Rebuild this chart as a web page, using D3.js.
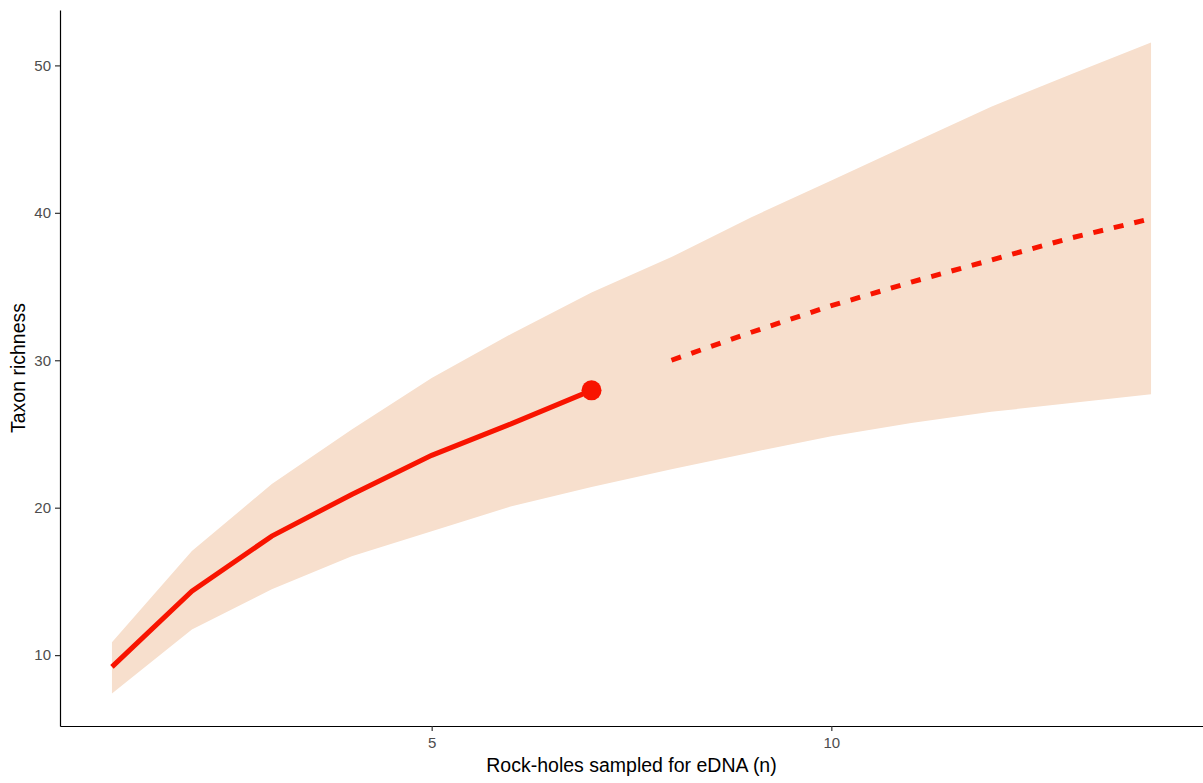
<!DOCTYPE html>
<html>
<head>
<meta charset="utf-8">
<script src="https://cdn.jsdelivr.net/npm/d3@7"></script>
<style>
  body { margin: 0; background: #fff; }
  svg text { font-family: "Liberation Sans", Arial, sans-serif; }
</style>
</head>
<body>
<svg id="chart"></svg>
<script>
// Données
const samples = [1, 2, 3, 4, 5, 6, 7, 8, 9, 10, 11, 12, 13, 14];
const richness = [9.2, 14.34, 18.07, 20.9, 23.55, 25.7, 27.96, 30.0, 31.9, 33.7, 35.3, 36.8, 38.3, 39.6];
const lowerCI = [7.4, 11.74, 14.46, 16.7, 18.4, 20.1, 21.4, 22.6, 23.75, 24.85, 25.75, 26.5, 27.1, 27.7];
const upperCI = [10.88, 17.06, 21.6, 25.3, 28.8, 31.8, 34.6, 37.0, 39.7, 42.2, 44.7, 47.2, 49.4, 51.55];
const observedN = 7;
const xTicks = [5, 10];
const yTicks = [10, 20, 30, 40, 50];

const width = 1203, height = 783;
const margin = {top: 10, right: 0, bottom: 57, left: 60};

const svg = d3.select("#chart")
    .attr("width", width)
    .attr("height", height);

const data = samples.map((n, i) => ({
    n: n, y: richness[i], lo: lowerCI[i], hi: upperCI[i]
}));

// Échelles avec l'expansion de 5% façon ggplot
const xPad = (14 - 1) * 0.05;
const xScale = d3.scaleLinear()
    .domain([1 - xPad, 14 + xPad])
    .range([margin.left, width - margin.right]);

const yMin = d3.min(lowerCI), yMax = d3.max(upperCI);
const yPad = (yMax - yMin) * 0.05;
const yScale = d3.scaleLinear()
    .domain([yMin - yPad, yMax + yPad])
    .range([height - margin.bottom, margin.top]);

// Bande de confiance
const area = d3.area()
    .x(d => xScale(d.n))
    .y0(d => yScale(d.lo))
    .y1(d => yScale(d.hi));

svg.append("path")
    .datum(data)
    .attr("d", area)
    .attr("fill", "#f7dfcd");

const line = d3.line()
    .x(d => xScale(d.n))
    .y(d => yScale(d.y));

// Interpolation (trait plein) et extrapolation (pointillés)
svg.append("path")
    .datum(data.filter(d => d.n <= observedN))
    .attr("d", line)
    .attr("fill", "none")
    .attr("stroke", "#f81400")
    .attr("stroke-width", 5);

svg.append("path")
    .datum(data.filter(d => d.n > observedN))
    .attr("d", line)
    .attr("fill", "none")
    .attr("stroke", "#f81400")
    .attr("stroke-width", 5)
    .attr("stroke-dasharray", "10,11");

const obs = data.find(d => d.n === observedN);
svg.append("circle")
    .attr("cx", xScale(obs.n))
    .attr("cy", yScale(obs.y))
    .attr("r", 10)
    .attr("fill", "#f81400");

// Axes
const xAxis = svg.append("g")
    .attr("transform", `translate(0,${height - margin.bottom})`)
    .call(d3.axisBottom(xScale).tickValues(xTicks).tickSize(5).tickSizeOuter(0).tickPadding(6));

const yAxis = svg.append("g")
    .attr("transform", `translate(${margin.left},0)`)
    .call(d3.axisLeft(yScale).tickValues(yTicks).tickSize(5).tickSizeOuter(0).tickPadding(4));

[xAxis, yAxis].forEach(g => {
    g.select(".domain").attr("stroke", "#000").attr("stroke-width", 1.2);
    g.selectAll(".tick line").attr("stroke", "#333").attr("stroke-width", 1.2);
    g.selectAll(".tick text")
        .attr("fill", "#4d4d4d")
        .style("font-size", "15px")
        .style("font-family", "'Liberation Sans', Arial, sans-serif");
});

// Titres des axes
svg.append("text")
    .attr("x", (margin.left + width - margin.right) / 2)
    .attr("y", 772)
    .attr("text-anchor", "middle")
    .style("font-size", "19.5px")
    .attr("fill", "#000")
    .text("Rock-holes sampled for eDNA (n)");

svg.append("text")
    .attr("transform", `translate(25,${(margin.top + height - margin.bottom) / 2}) rotate(-90)`)
    .attr("text-anchor", "middle")
    .style("font-size", "19.5px")
    .attr("fill", "#000")
    .text("Taxon richness");
</script>
</body>
</html>
